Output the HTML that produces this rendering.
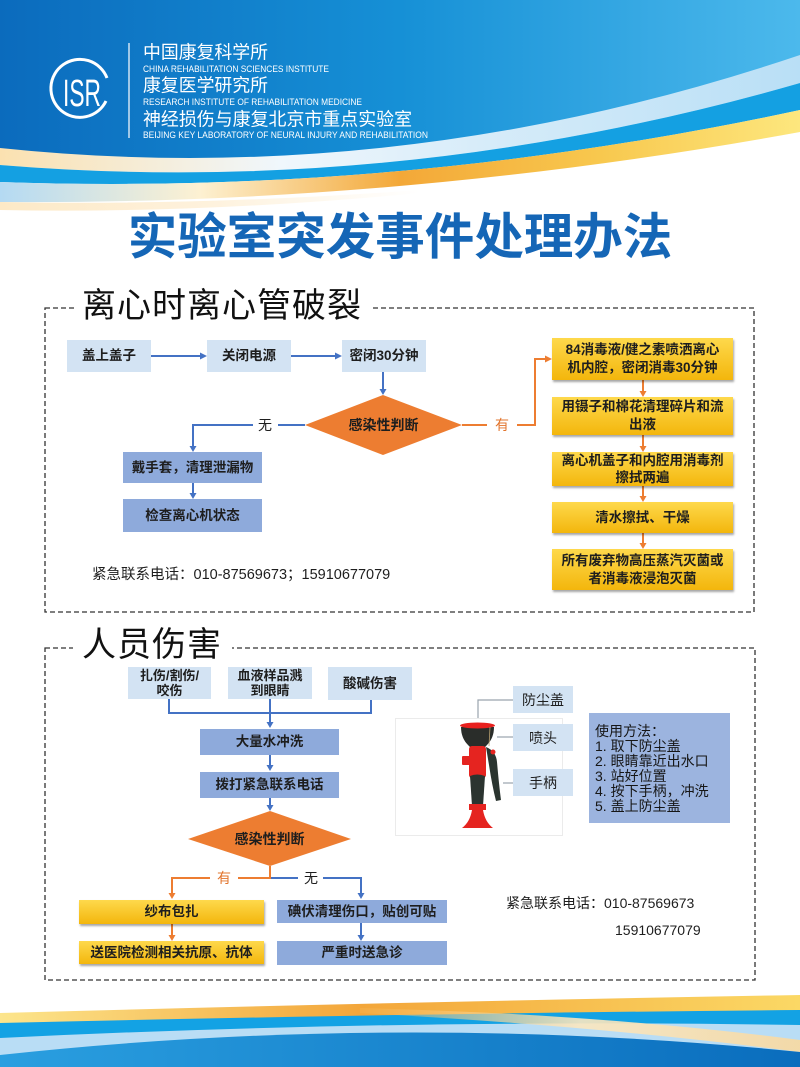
<!DOCTYPE html>
<html><head><meta charset="utf-8"><style>
*{margin:0;padding:0;box-sizing:border-box}
html,body{width:800px;height:1067px;overflow:hidden;background:#fff}
body{position:relative;font-family:"Liberation Sans","Noto Sans CJK SC","WenQuanYi Zen Hei",sans-serif}
svg.bg{position:absolute;left:0;top:0}
.b{position:absolute;display:flex;align-items:center;justify-content:center;text-align:center;font-size:13.5px;line-height:18px;font-weight:bold;color:#1e1e1e;white-space:nowrap}
.l{background:#d3e3f3}
.m{background:#8eaadb}
.y{background:linear-gradient(#fed94c,#f3b60c);box-shadow:1px 2px 2px rgba(0,0,0,.35)}
.t{position:absolute;white-space:nowrap;color:#1e1e1e}
.h{position:absolute;font-size:34px;line-height:34px;letter-spacing:1px;color:#111;white-space:nowrap}
</style></head><body>
<svg class="bg" width="800" height="1067" viewBox="0 0 800 1067" xmlns="http://www.w3.org/2000/svg">
<defs>
<linearGradient id="gMain" x1="0" y1="0" x2="1" y2="0">
<stop offset="0" stop-color="#0b6bbd"/><stop offset="0.5" stop-color="#1690d6"/><stop offset="1" stop-color="#4cb9ec"/>
</linearGradient>
<linearGradient id="gB1" x1="0" y1="0" x2="1" y2="0">
<stop offset="0" stop-color="#fbe1b0"/><stop offset="0.35" stop-color="#f0f7fc"/><stop offset="0.6" stop-color="#d7ecf9"/><stop offset="1" stop-color="#b9dff6"/>
</linearGradient>
<linearGradient id="gB3" x1="0" y1="0" x2="1" y2="0">
<stop offset="0" stop-color="#b4daf3"/><stop offset="0.25" stop-color="#fdf1d2"/><stop offset="0.5" stop-color="#f3a838"/><stop offset="0.75" stop-color="#f8c84e"/><stop offset="1" stop-color="#fde77e"/>
</linearGradient>
<linearGradient id="gF" x1="0" y1="0" x2="1" y2="0">
<stop offset="0" stop-color="#2a9fe0"/><stop offset="1" stop-color="#0a6dbd"/>
</linearGradient>
<linearGradient id="gFY" x1="0" y1="0" x2="1" y2="0">
<stop offset="0" stop-color="#fce58c"/><stop offset="0.45" stop-color="#f3a63a"/><stop offset="1" stop-color="#fbd865"/>
</linearGradient>
<linearGradient id="gCr" x1="0" y1="0" x2="1" y2="0">
<stop offset="0" stop-color="#fde9c6" stop-opacity="1"/><stop offset="0.5" stop-color="#fde9c6" stop-opacity="0.6"/><stop offset="1" stop-color="#fde9c6" stop-opacity="0"/>
</linearGradient>
<linearGradient id="gFC" x1="0" y1="0" x2="1" y2="0">
<stop offset="0" stop-color="#f6b95a" stop-opacity="0.3"/><stop offset="0.5" stop-color="#fbe7c0" stop-opacity="0.9"/><stop offset="1" stop-color="#f9d9a0" stop-opacity="0.9"/>
</linearGradient>
</defs>
<!-- header -->
<path d="M0,0 H800 V60 Q400,190 0,150 Z" fill="url(#gMain)"/>
<path d="M0,148 Q400,190 800,55 L800,83 Q400,198 0,165 Z" fill="url(#gB1)"/>
<path d="M0,165 Q400,198 800,83 L800,110 Q400,196 0,182 Z" fill="#14a0e2"/>
<path d="M0,182 Q400,196 800,110 L800,132 Q400,205 0,202 Z" fill="url(#gB3)"/>
<path d="M0,202 Q200,206 420,190 L420,193 Q200,214 0,210 Z" fill="url(#gCr)"/>
<!-- logo -->
<path d="M107,78 A29,29 0 1 0 106,101" fill="none" stroke="#fff" stroke-width="3"/>
<text x="63" y="106" font-family="Liberation Sans Narrow, Liberation Sans, sans-serif" font-size="38" fill="#fff" textLength="38" lengthAdjust="spacingAndGlyphs">ISR</text>
<line x1="129" y1="43" x2="129" y2="138" stroke="#fff" stroke-width="1.2"/>
<g fill="#fff" font-family="Liberation Sans, Noto Sans CJK SC, sans-serif">
<text x="143" y="58.5" font-size="18" textLength="125" lengthAdjust="spacingAndGlyphs">中国康复科学所</text>
<text x="143" y="72" font-size="9" textLength="186" lengthAdjust="spacingAndGlyphs">CHINA REHABILITATION SCIENCES INSTITUTE</text>
<text x="143" y="91.5" font-size="18" textLength="125" lengthAdjust="spacingAndGlyphs">康复医学研究所</text>
<text x="143" y="105" font-size="9" textLength="219" lengthAdjust="spacingAndGlyphs">RESEARCH INSTITUTE OF REHABILITATION MEDICINE</text>
<text x="143" y="125.5" font-size="18" textLength="269" lengthAdjust="spacingAndGlyphs">神经损伤与康复北京市重点实验室</text>
<text x="143" y="138" font-size="9" textLength="285" lengthAdjust="spacingAndGlyphs">BEIJING KEY LABORATORY OF NEURAL INJURY AND REHABILITATION</text>
</g>
<!-- footer -->
<path d="M0,1013 Q400,1002 800,995 L800,1067 L0,1067 Z" fill="url(#gFY)"/>
<path d="M0,1023 Q400,1013.5 800,1010 L800,1067 L0,1067 Z" fill="#13a2e4"/>
<path d="M0,1038 Q400,1018.5 800,1025 L800,1067 L0,1067 Z" fill="#b9ddf5"/>
<path d="M360,1008 Q600,1014 800,1040 L800,1052 Q600,1026 360,1013 Z" fill="url(#gFC)"/>
<path d="M0,1055 Q400,1011.5 800,1052 L800,1067 L0,1067 Z" fill="url(#gF)"/>

<!-- section 1 -->
<rect x="45" y="308" width="709" height="304" fill="none" stroke="#333" stroke-width="1.3" stroke-dasharray="5 3"/>
<rect x="75" y="296" width="298" height="24" fill="#fff"/>
<g stroke="#4472c4" stroke-width="2" fill="none">
<line x1="151" y1="356" x2="201" y2="356"/>
<line x1="291" y1="356" x2="336" y2="356"/>
<line x1="383" y1="372" x2="383" y2="390"/>
<polyline points="305,425 278,425"/>
<polyline points="253,425 193,425 193,447"/>
<line x1="193" y1="483" x2="193" y2="494"/>
</g>
<g fill="#4472c4">
<polygon points="207,356 200,352.5 200,359.5"/>
<polygon points="342,356 335,352.5 335,359.5"/>
<polygon points="383,395 379.5,389 386.5,389"/>
<polygon points="193,452 189.5,446 196.5,446"/>
<polygon points="193,499 189.5,493 196.5,493"/>
</g>
<polygon points="383,395 462,425 383,455 305,425" fill="#ed7d31"/>
<g stroke="#ed7d31" stroke-width="2" fill="none">
<line x1="462" y1="425" x2="487" y2="425"/>
<polyline points="517,425 535,425 535,359 547,359"/>
<line x1="643" y1="380" x2="643" y2="392"/>
<line x1="643" y1="435" x2="643" y2="447"/>
<line x1="643" y1="486" x2="643" y2="497"/>
<line x1="643" y1="533" x2="643" y2="544"/>
</g>
<g fill="#ed7d31">
<polygon points="552,359 545,355.5 545,362.5"/>
<polygon points="643,397 639.5,391 646.5,391"/>
<polygon points="643,452 639.5,446 646.5,446"/>
<polygon points="643,502 639.5,496 646.5,496"/>
<polygon points="643,549 639.5,543 646.5,543"/>
</g>

<!-- section 2 -->
<rect x="45" y="648" width="710" height="332" fill="none" stroke="#333" stroke-width="1.3" stroke-dasharray="5 3"/>
<rect x="73" y="634" width="159" height="26" fill="#fff"/>
<g stroke="#4472c4" stroke-width="2" fill="none">
<polyline points="169,699 169,713 371,713 371,700"/>
<line x1="270" y1="699" x2="270" y2="723"/>
<line x1="270" y1="755" x2="270" y2="766"/>
<line x1="270" y1="798" x2="270" y2="806"/>
<line x1="270" y1="878" x2="298" y2="878"/>
<polyline points="323,878 361,878 361,894"/>
<line x1="361" y1="923" x2="361" y2="936"/>
</g>
<g fill="#4472c4">
<polygon points="270,728 266.5,722 273.5,722"/>
<polygon points="270,771 266.5,765 273.5,765"/>
<polygon points="270,811 266.5,805 273.5,805"/>
<polygon points="361,899 357.5,893 364.5,893"/>
<polygon points="361,941 357.5,935 364.5,935"/>
</g>
<polygon points="270,811 351,839 270,866 188,839" fill="#ed7d31"/>
<g stroke="#ed7d31" stroke-width="2" fill="none">
<polyline points="270,866 270,878 238,878"/>
<polyline points="210,878 172,878 172,894"/>
<line x1="172" y1="924" x2="172" y2="936"/>
</g>
<g fill="#ed7d31">
<polygon points="172,899 168.5,893 175.5,893"/>
<polygon points="172,941 168.5,935 175.5,935"/>
</g>
<!-- eyewash -->
<rect x="395.5" y="718.5" width="167" height="117" fill="#fff" stroke="#ebebeb" stroke-width="1"/>
<g stroke="#9aa4ad" stroke-width="1.2" fill="none">
<polyline points="513,700 478,700 478,718"/>
<line x1="513" y1="737" x2="497" y2="737"/>
<line x1="513" y1="783" x2="503" y2="783"/>
</g>
<path d="M461,727 L494,727 Q494,738 487,745 Q484,749 478,749 Q471,749 468,745 Q461,738 461,727 Z" fill="#2a2d2a"/>
<ellipse cx="477.5" cy="725.5" rx="17.5" ry="3" fill="#e8201e"/>
<rect x="469" y="746" width="17" height="32" rx="3" fill="#e52420"/>
<rect x="462" y="756" width="8" height="9" rx="1" fill="#e52420"/>
<path d="M470,776 Q477,773 485,776 L483,806 L472,806 Z" fill="#2b3430"/>
<rect x="469" y="804" width="17" height="6" fill="#e52420"/>
<path d="M472,810 L483,810 Q485,822 493,828 L462,828 Q470,822 472,810 Z" fill="#e52420"/>
<path d="M486,747 Q496,751 497,762 Q499,785 501,800 L496,801 Q492,785 489,765 Z" fill="#2b3530"/>
<circle cx="493" cy="752" r="2.5" fill="#e52420"/>
<line x1="490" y1="727" x2="489" y2="746" stroke="#b8a070" stroke-width="0.8"/>
</svg>

<!-- title -->
<div class="t" style="left:0;width:800px;top:213px;text-align:center;font-size:49.5px;line-height:50px;font-weight:bold;color:#1566b6">实验室突发事件处理办法</div>

<div class="h" style="left:82px;top:289px">离心时离心管破裂</div>
<div class="h" style="left:82px;top:628px">人员伤害</div>

<!-- section 1 boxes -->
<div class="b l" style="left:67px;top:340px;width:84px;height:32px">盖上盖子</div>
<div class="b l" style="left:207px;top:340px;width:84px;height:32px">关闭电源</div>
<div class="b l" style="left:342px;top:340px;width:84px;height:32px">密闭30分钟</div>
<div class="t" style="left:305px;top:416px;width:157px;text-align:center;font-size:14px;line-height:18px;font-weight:bold">感染性判断</div>
<div class="t" style="left:258px;top:417px;font-size:14px;line-height:16px;background:#fff">无</div>
<div class="t" style="left:495px;top:417px;font-size:14px;line-height:16px;color:#e2742c">有</div>
<div class="b m" style="left:123px;top:452px;width:139px;height:31px">戴手套，清理泄漏物</div>
<div class="b m" style="left:123px;top:499px;width:139px;height:33px">检查离心机状态</div>
<div class="b y" style="left:552px;top:338px;width:181px;height:42px">84消毒液/健之素喷洒离心<br>机内腔，密闭消毒30分钟</div>
<div class="b y" style="left:552px;top:397px;width:181px;height:38px">用镊子和棉花清理碎片和流<br>出液</div>
<div class="b y" style="left:552px;top:452px;width:181px;height:34px;line-height:17px">离心机盖子和内腔用消毒剂<br>擦拭两遍</div>
<div class="b y" style="left:552px;top:502px;width:181px;height:31px">清水擦拭、干燥</div>
<div class="b y" style="left:552px;top:549px;width:181px;height:41px">所有废弃物高压蒸汽灭菌或<br>者消毒液浸泡灭菌</div>
<div class="t" style="left:92px;top:566px;font-size:14.5px;line-height:18px">紧急联系电话：010-87569673；15910677079</div>

<!-- section 2 boxes -->
<div class="b l" style="left:128px;top:667px;width:83px;height:32px;font-size:13px;line-height:15.5px">扎伤/割伤/<br>咬伤</div>
<div class="b l" style="left:228px;top:667px;width:84px;height:32px;font-size:13px;line-height:15.5px">血液样品溅<br>到眼睛</div>
<div class="b l" style="left:328px;top:667px;width:84px;height:33px">酸碱伤害</div>
<div class="b m" style="left:200px;top:729px;width:139px;height:26px">大量水冲洗</div>
<div class="b m" style="left:200px;top:772px;width:139px;height:26px">拨打紧急联系电话</div>
<div class="t" style="left:188px;top:830px;width:163px;text-align:center;font-size:14px;line-height:18px;font-weight:bold">感染性判断</div>
<div class="t" style="left:217px;top:870px;font-size:14px;line-height:16px;color:#e2742c">有</div>
<div class="t" style="left:304px;top:870px;font-size:14px;line-height:16px">无</div>
<div class="b y" style="left:79px;top:900px;width:185px;height:24px">纱布包扎</div>
<div class="b y" style="left:79px;top:941px;width:185px;height:23px">送医院检测相关抗原、抗体</div>
<div class="b m" style="left:277px;top:900px;width:170px;height:23px">碘伏清理伤口，贴创可贴</div>
<div class="b m" style="left:277px;top:941px;width:170px;height:24px">严重时送急诊</div>
<div class="b l" style="left:513px;top:686px;width:60px;height:27px;font-weight:normal;font-size:14px">防尘盖</div>
<div class="b l" style="left:513px;top:724px;width:60px;height:27px;font-weight:normal;font-size:14px">喷头</div>
<div class="b l" style="left:513px;top:769px;width:60px;height:27px;font-weight:normal;font-size:14px">手柄</div>
<div class="t" style="left:589px;top:713px;width:141px;height:110px;background:#9cb4df;padding:11px 0 0 6px;font-size:14px;line-height:15px;color:#161616">使用方法：<br>1. 取下防尘盖<br>2. 眼睛靠近出水口<br>3. 站好位置<br>4. 按下手柄，冲洗<br>5. 盖上防尘盖</div>
<div class="t" style="left:506px;top:894px;font-size:14px;line-height:18px">紧急联系电话：010-87569673</div>
<div class="t" style="left:615px;top:921px;font-size:14px;line-height:18px">15910677079</div>
</body></html>
